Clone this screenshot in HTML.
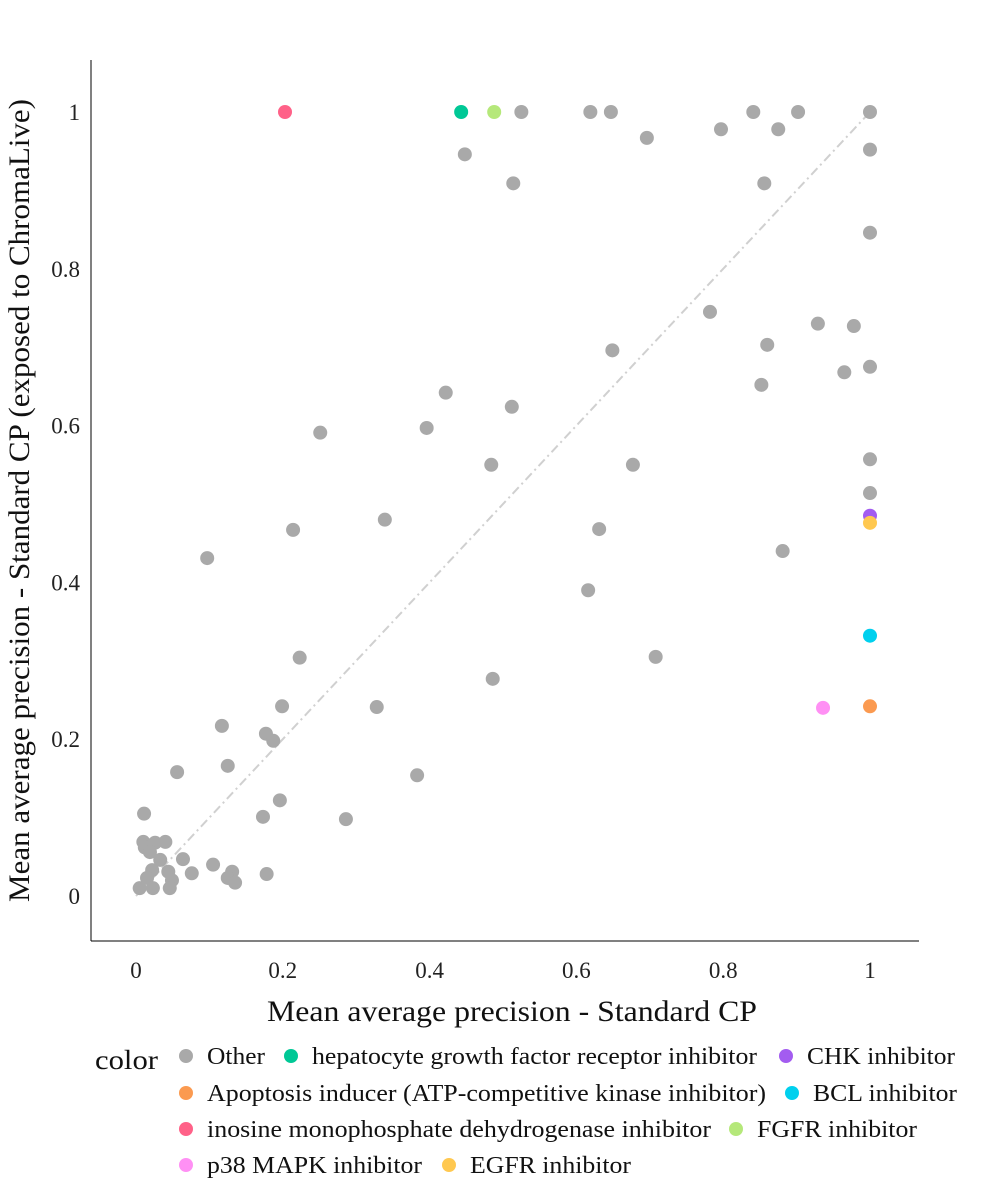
<!DOCTYPE html>
<html><head><meta charset="utf-8"><style>
body{margin:0;background:#fff;}
svg{display:block;font-family:"Liberation Serif",serif;}
</style></head><body>
<svg id="chart" width="1000" height="1200"></svg>
<script>
const otherX=[0.525,0.619,0.647,0.841,0.902,1,0.448,0.514,0.696,0.797,0.875,0.856,1,1,0.782,0.929,0.978,0.860,0.649,0.965,1,0.852,0.422,0.512,0.396,0.251,0.484,0.677,1,1,0.339,0.214,0.631,0.881,0.097,0.616,0.223,0.708,0.486,0.328,0.199,0.117,0.177,0.187,0.125,0.056,0.383,0.196,0.173,0.286,0.011,0.010,0.012,0.040,0.026,0.033,0.064,0.105,0.076,0.131,0.125,0.135,0.178,0.022,0.044,0.049,0.015,0.005,0.023,0.046,0.019];
const otherY=[1,1,1,1,1,1,0.946,0.909,0.967,0.978,0.978,0.909,0.952,0.846,0.745,0.730,0.727,0.703,0.696,0.668,0.675,0.652,0.642,0.624,0.597,0.591,0.550,0.550,0.557,0.514,0.480,0.467,0.468,0.440,0.431,0.390,0.304,0.305,0.277,0.241,0.242,0.217,0.207,0.198,0.166,0.158,0.154,0.122,0.101,0.098,0.105,0.069,0.062,0.069,0.068,0.046,0.047,0.040,0.029,0.031,0.023,0.017,0.028,0.033,0.031,0.020,0.023,0.010,0.010,0.010,0.056];
const catNames=["hepatocyte growth factor receptor inhibitor","CHK inhibitor","Apoptosis inducer (ATP-competitive kinase inhibitor)","BCL inhibitor","inosine monophosphate dehydrogenase inhibitor","FGFR inhibitor","p38 MAPK inhibitor","EGFR inhibitor"];
const catX=[0.443,1,1,1,0.203,0.488,0.936,1];
const catY=[1,0.485,0.242,0.332,1,1,0.240,0.476];
const catColors=["#00c896","#a35cf0","#fb9a50","#00d0ee","#ff6188","#b5e87a","#ff90f4","#ffc850"];
const xTicks=[0,0.2,0.4,0.6,0.8,1];
const yTicks=[0,0.2,0.4,0.6,0.8,1];
const xTickLabels=["0","0.2","0.4","0.6","0.8","1"];
const yTickLabels=["0","0.2","0.4","0.6","0.8","1"];

const NS="http://www.w3.org/2000/svg";
const svg=document.getElementById('chart');
const sx=v=>136+v*734, sy=v=>896-v*784;
function mk(tag,attrs,parent){const e=document.createElementNS(NS,tag);for(const k in attrs)e.setAttribute(k,attrs[k]);(parent||svg).appendChild(e);return e;}
let d=mk('line',{x1:sx(0),y1:sy(0),x2:sx(1),y2:sy(1),stroke:'#d0d0d0','stroke-width':2,'stroke-dasharray':'9 4 2 4'});


let ax=mk('line',{x1:91,y1:60,x2:91,y2:941,stroke:'#000','stroke-width':1});


let bx=mk('line',{x1:91,y1:941,x2:919,y2:941,stroke:'#000','stroke-width':1});


xTicks.forEach((v,i)=>{
  const t=mk('text',{x:sx(v),y:978,'text-anchor':'middle','font-size':23,fill:'#222'});
  t.textContent=xTickLabels[i];
  
  
});
yTicks.forEach((v,i)=>{
  const t=mk('text',{x:80,y:sy(v)+8,'text-anchor':'end','font-size':23,fill:'#222'});
  t.textContent=yTickLabels[i];
  
  
});
let xt=mk('text',{x:267,y:1021,'font-size':30,fill:'#111',textLength:490,lengthAdjust:'spacingAndGlyphs'});
xt.textContent='Mean average precision - Standard CP';


let yt=mk('text',{x:0,y:0,'font-size':30,fill:'#111',textLength:803,lengthAdjust:'spacingAndGlyphs',transform:'translate(29,902) rotate(-90)'});
yt.textContent='Mean average precision - Standard CP (exposed to ChromaLive)';


otherX.forEach((v,i)=>{
  const c=mk('circle',{cx:sx(v),cy:sy(otherY[i]),r:7,fill:'#a9a9a9'});
  
  
});
catX.forEach((v,i)=>{
  const c=mk('circle',{cx:sx(v),cy:sy(catY[i]),r:7,fill:catColors[i]});
  
  
});
let lt=mk('text',{x:95,y:1069,'font-size':27,fill:'#111',textLength:63,lengthAdjust:'spacingAndGlyphs'});
lt.textContent='color';


const legend=[["Other","#a9a9a9",186,1056,265],[catNames[0],catColors[0],291,1056,757],[catNames[1],catColors[1],786,1056,955],
[catNames[2],catColors[2],186,1093,766],[catNames[3],catColors[3],792,1093,957],
[catNames[4],catColors[4],186,1129,711],[catNames[5],catColors[5],736,1129,917],
[catNames[6],catColors[6],186,1165,422],[catNames[7],catColors[7],449,1165,631]];
legend.forEach(l=>{
  const g=mk('g',{});
  
  
  mk('circle',{cx:l[2],cy:l[3],r:7,fill:l[1]},g);
  const t=mk('text',{x:l[2]+21,y:l[3]+8,'font-size':24,fill:'#111',textLength:l[4]-(l[2]+21),lengthAdjust:'spacingAndGlyphs'},g);
  t.textContent=l[0];
});
</script>
</body></html>
